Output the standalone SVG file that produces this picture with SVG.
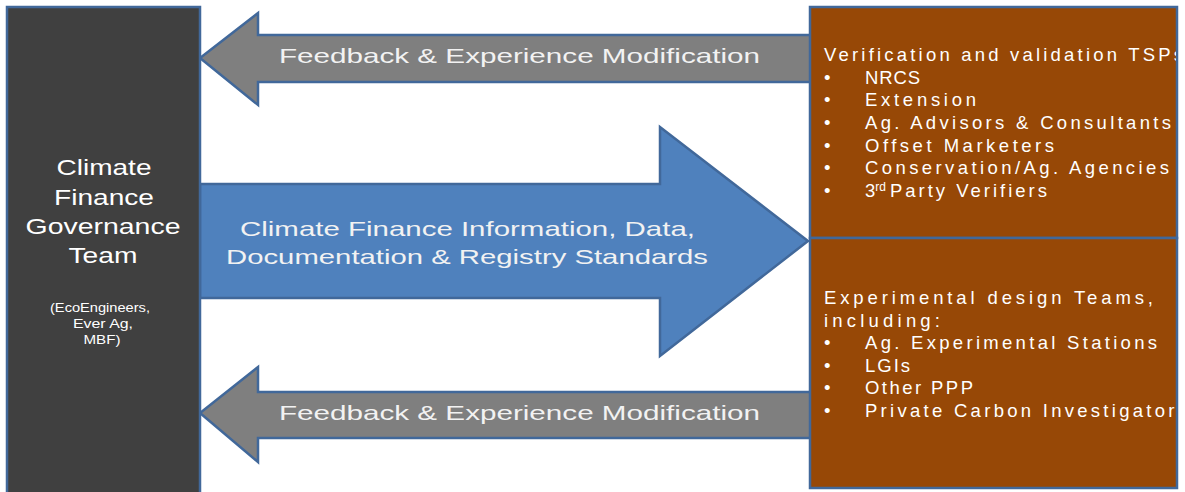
<svg xmlns="http://www.w3.org/2000/svg" width="1185" height="492" viewBox="0 0 1185 492">
<style>
.stroke{stroke:#41689A;stroke-width:2.5;stroke-linejoin:miter}
.gray{fill:#7F7F7F}
.blue{fill:#4F81BD}
.brown{fill:#974806}
.dark{fill:#404040}
.t{font-family:"Liberation Sans",Arial,sans-serif;fill:#ffffff}
.lbl{font-family:"Liberation Sans",Arial,sans-serif;fill:#F2F2F2;font-size:21px}
.lst{font-family:"Liberation Sans",Arial,sans-serif;fill:#ffffff;font-size:18.5px}
</style>
<defs>
<clipPath id="clipTop"><rect x="811" y="8" width="365" height="229"/></clipPath>
<clipPath id="clipBot"><rect x="811" y="239" width="365" height="249"/></clipPath>
</defs>
<rect width="1185" height="492" fill="#ffffff"/>

<g id="connectors">
  <g id="feedback-top">
    <polygon class="gray stroke" points="812,35 258,35 258,13 200,58 258,105 258,82 812,82"/>
    <text class="lbl" x="279" y="63" textLength="481" lengthAdjust="spacingAndGlyphs">Feedback &amp; Experience Modification</text>
  </g>
  <g id="info-arrow">
    <polygon class="blue stroke" points="200,184 660,184 660,127 808,241 660,356 660,298 200,298"/>
    <text class="lbl" x="240" y="236" textLength="455" lengthAdjust="spacingAndGlyphs">Climate Finance Information, Data,</text>
    <text class="lbl" x="226" y="264" textLength="482" lengthAdjust="spacingAndGlyphs">Documentation &amp; Registry Standards</text>
  </g>
  <g id="feedback-bottom">
    <polygon class="gray stroke" points="812,392 258,392 258,367 200,413 258,462 258,438 812,438"/>
    <text class="lbl" x="279" y="420" textLength="481" lengthAdjust="spacingAndGlyphs">Feedback &amp; Experience Modification</text>
  </g>
</g>

<g id="governance-team">
  <rect class="dark stroke" x="7" y="7" width="193" height="495"/>
  <g class="t" font-size="22" text-anchor="middle">
    <text x="104" y="175" textLength="95" lengthAdjust="spacingAndGlyphs">Climate</text>
    <text x="104" y="205" textLength="100" lengthAdjust="spacingAndGlyphs">Finance</text>
    <text x="103" y="234" textLength="155" lengthAdjust="spacingAndGlyphs">Governance</text>
    <text x="103" y="263" textLength="69" lengthAdjust="spacingAndGlyphs">Team</text>
  </g>
  <g class="t" font-size="12" text-anchor="middle">
    <text x="100" y="312" textLength="100" lengthAdjust="spacingAndGlyphs">(EcoEngineers,</text>
    <text x="103" y="328" textLength="60" lengthAdjust="spacingAndGlyphs">Ever Ag,</text>
    <text x="102" y="344" textLength="37" lengthAdjust="spacingAndGlyphs">MBF)</text>
  </g>
</g>

<g id="verification-tsps">
  <rect class="brown stroke" x="810" y="7" width="367" height="231"/>
  <g clip-path="url(#clipTop)" class="lst">
    <text x="824" y="61" textLength="359" lengthAdjust="spacing">Verification and validation TSPs</text>
    <text x="824" y="84">•</text><text x="865" y="84" textLength="55" lengthAdjust="spacing">NRCS</text>
    <text x="824" y="106">•</text><text x="865" y="106" textLength="111" lengthAdjust="spacing">Extension</text>
    <text x="824" y="129">•</text><text x="865" y="129" textLength="306" lengthAdjust="spacing">Ag. Advisors &amp; Consultants</text>
    <text x="824" y="152">•</text><text x="865" y="152" textLength="189" lengthAdjust="spacing">Offset Marketers</text>
    <text x="824" y="174">•</text><text x="865" y="174" textLength="304" lengthAdjust="spacing">Conservation/Ag. Agencies</text>
    <text x="824" y="197">•</text><text x="865" y="197">3<tspan font-size="12" dy="-6">rd</tspan><tspan dy="6" dx="4" textLength="157" lengthAdjust="spacing">Party Verifiers</tspan></text>
  </g>
</g>

<g id="experimental-teams">
  <rect class="brown stroke" x="810" y="238" width="367" height="250"/>
  <g clip-path="url(#clipBot)" class="lst">
    <text x="824" y="304" textLength="329" lengthAdjust="spacing">Experimental design Teams,</text>
    <text x="824" y="327" textLength="116" lengthAdjust="spacing">including:</text>
    <text x="824" y="349">•</text><text x="865" y="349" textLength="292" lengthAdjust="spacing">Ag. Experimental Stations</text>
    <text x="824" y="372">•</text><text x="865" y="372" textLength="45" lengthAdjust="spacing">LGIs</text>
    <text x="824" y="394">•</text><text x="865" y="394" textLength="108" lengthAdjust="spacing">Other PPP</text>
    <text x="824" y="417">•</text><text x="865" y="417" textLength="322" lengthAdjust="spacing">Private Carbon Investigators</text>
  </g>
</g>
</svg>
